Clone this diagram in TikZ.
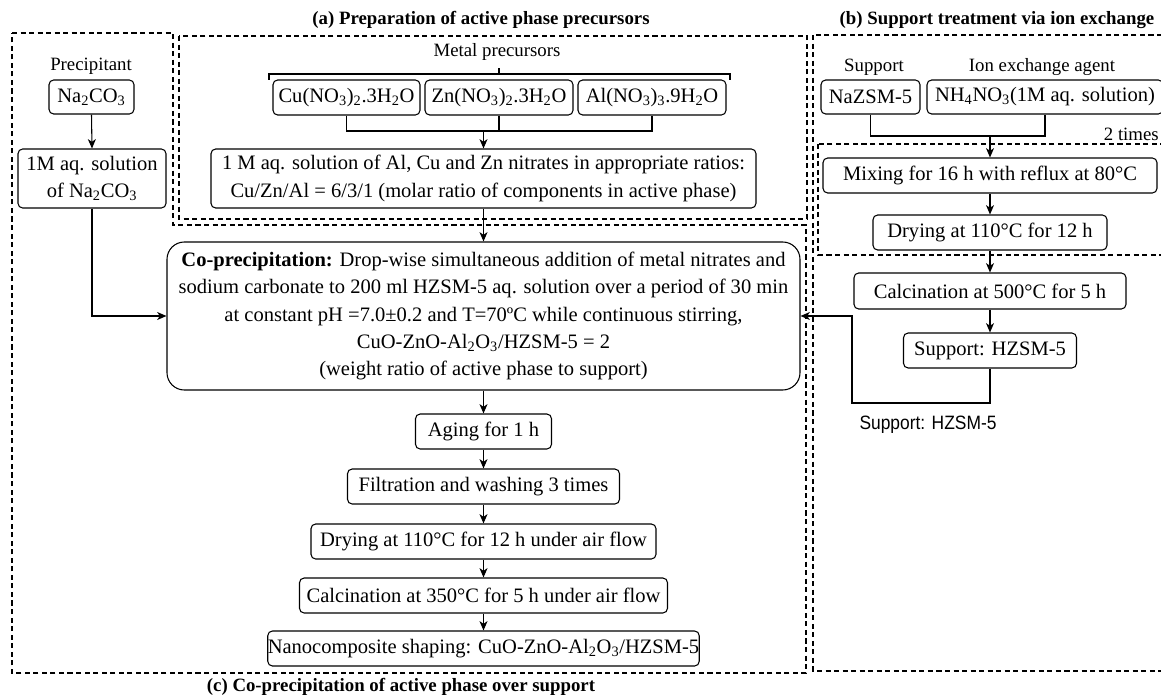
\documentclass[tikz,border=0pt]{standalone}
\usepackage{fontspec}
\setmainfont{Liberation Serif}
\newfontfamily\lsans{Liberation Sans}
\usetikzlibrary{arrows.meta}
\begin{document}
\begin{tikzpicture}[x=0.75pt,y=-0.75pt,
  box/.style={draw, line width=0.8pt, rounded corners=3.5pt, inner sep=0pt, align=center, font=\fontsize{15.4}{20.6}\selectfont},
  wh/.style 2 args={minimum width=#1*0.75pt, minimum height=#2*0.75pt},
  lbl/.style={inner sep=0pt, font=\fontsize{14.1}{17}\selectfont},
  ttl/.style={inner sep=0pt, font=\fontsize{14.1}{17}\selectfont\bfseries},
  arr/.style={line width=0.8pt, -{Stealth[length=7pt,width=6pt,inset=2pt]}},
  ln/.style={line width=0.8pt},
  grp/.style={line width=0.8pt, dash pattern=on 3.8pt off 2.6pt}
]
\useasboundingbox (0,0) rectangle (1161,699);
\clip (0,0) rectangle (1161,699);

% group frames
\draw[grp] (12,33) -- (173,33) -- (173,225) -- (806,225) -- (806,673) -- (12,673) -- cycle;
\draw[grp] (179,36) rectangle (807,219);
\draw[grp] (813,35) rectangle (1175,671);
\draw[grp] (818,144) rectangle (1175,255);

% titles
\node[ttl] (ta) at (481,20) {(a) Preparation of active phase precursors};
\node[ttl] (tb) at (997,20) {(b) Support treatment via ion exchange};
\node[ttl] (tc) at (401,687) {(c) Co-precipitation of active phase over support};

% left column
\node[lbl] (lprec) at (91,66) {Precipitant};
\node[box, wh={85}{34}] (na) at (91.5,97) {Na\textsubscript{2}CO\textsubscript{3}};
\node[box, wh={148}{59}] (nasol) at (92,178.5) {1M aq. solution\\of Na\textsubscript{2}CO\textsubscript{3}};

% (a) metal precursors
\node[lbl] (lmet) at (497,52) {Metal precursors};
\node[box, wh={147}{35}] (cu) at (346.5,97.5) {Cu(NO\textsubscript{3})\textsubscript{2}.3H\textsubscript{2}O};
\node[box, wh={148}{35}] (zn) at (499,97.5) {Zn(NO\textsubscript{3})\textsubscript{2}.3H\textsubscript{2}O};
\node[box, wh={148}{35}] (al) at (652,97.5) {Al(NO\textsubscript{3})\textsubscript{3}.9H\textsubscript{2}O};
\node[box, wh={545}{59}] (msol) at (483.5,178.5) {1 M aq. solution of Al, Cu and Zn nitrates in appropriate ratios:\\Cu/Zn/Al = 6/3/1 (molar ratio of components in active phase)};

% bracket
\coordinate (bl) at (269,74);
\coordinate (br) at (730,74);
\coordinate (bm) at (499,74);
\draw[ln] (269,80) -- (bl) -- (br) -- (730,80);
\draw[ln] (bm) -- (499,68);

% (c) main chain
\node[box, rounded corners=13pt, wh={633}{148}] (cop) at (483.5,316) {\textbf{Co-precipitation:} Drop-wise simultaneous addition of metal nitrates and\\sodium carbonate to 200 ml HZSM-5 aq. solution over a period of 30 min\\at constant pH =7.0±0.2 and T=70ºC while continuous stirring,\\CuO-ZnO-Al\textsubscript{2}O\textsubscript{3}/HZSM-5 = 2\\(weight ratio of active phase to support)};
\node[box, wh={136}{35}] (aging) at (483.5,431.5) {Aging for 1 h};
\node[box, wh={272}{35}] (filt) at (483.5,486.5) {Filtration and washing 3 times};
\node[box, wh={345}{35}] (dry) at (483.5,541.5) {Drying at 110°C for 12 h under air flow};
\node[box, wh={368}{35}] (calc) at (483.5,595.5) {Calcination at 350°C for 5 h under air flow};
\node[box, wh={430}{35}] (nano) at (483.5,648.5) {Nanocomposite shaping: CuO-ZnO-Al\textsubscript{2}O\textsubscript{3}/HZSM-5};

% (b) support treatment
\node[lbl] (lsup) at (874,67) {Support};
\node[lbl] (lion) at (1042,67) {Ion exchange agent};
\node[box, wh={99}{34}] (naz) at (870.5,97) {NaZSM-5};
\node[box, wh={236}{34}] (nh) at (1045,97) {NH\textsubscript{4}NO\textsubscript{3}(1M aq. solution)};
\node[lbl, anchor=base east] (twot) at (1159,141) {2 times};
\node[box, wh={334}{35}] (mix) at (990,175.5) {Mixing for 16 h with reflux at 80°C};
\node[box, wh={234}{35}] (dry2) at (990,232.5) {Drying at 110°C for 12 h};
\node[box, wh={272}{36}] (calc2) at (990,291) {Calcination at 500°C for 5 h};
\node[box, wh={173}{35}] (supp) at (990,350.5) {Support: HZSM-5};
\node[inner sep=0pt, font=\lsans\fontsize{14.5}{17}\selectfont] (lsupp) at (928,425) {\scalebox{0.9}[1]{Support: HZSM-5}};

% connectors left
\draw[arr] (na.south) -- (nasol.north);
\draw[arr] (nasol.south) |- (cop.west);

% connectors (a)
\coordinate (j1) at (483.5,131);
\draw[ln] (cu.south) -- (cu.south |- j1) -- (al.south |- j1) -- (al.south);
\draw[ln] (zn.south) -- (zn.south |- j1);
\draw[arr] (j1) -- (msol.north);
\draw[arr] (msol.south) -- (cop.north);

% chain (c)
\draw[arr] (cop.south) -- (aging.north);
\draw[arr] (aging.south) -- (filt.north);
\draw[arr] (filt.south) -- (dry.north);
\draw[arr] (dry.south) -- (calc.north);
\draw[arr] (calc.south) -- (nano.north);

% connectors (b)
\coordinate (j2) at (990,136);
\draw[ln] (naz.south) -- (naz.south |- j2) -- (nh.south |- j2) -- (nh.south);
\draw[arr] (j2) -- (mix.north);
\draw[arr] (mix.south) -- (dry2.north);
\draw[arr] (dry2.south) -- (calc2.north);
\draw[arr] (calc2.south) -- (supp.north);
\coordinate (r1) at (990,403);
\coordinate (r2) at (852,403);
\draw[arr] (supp.south) -- (r1) -- (r2) |- (cop.east);
\end{tikzpicture}
\end{document}
